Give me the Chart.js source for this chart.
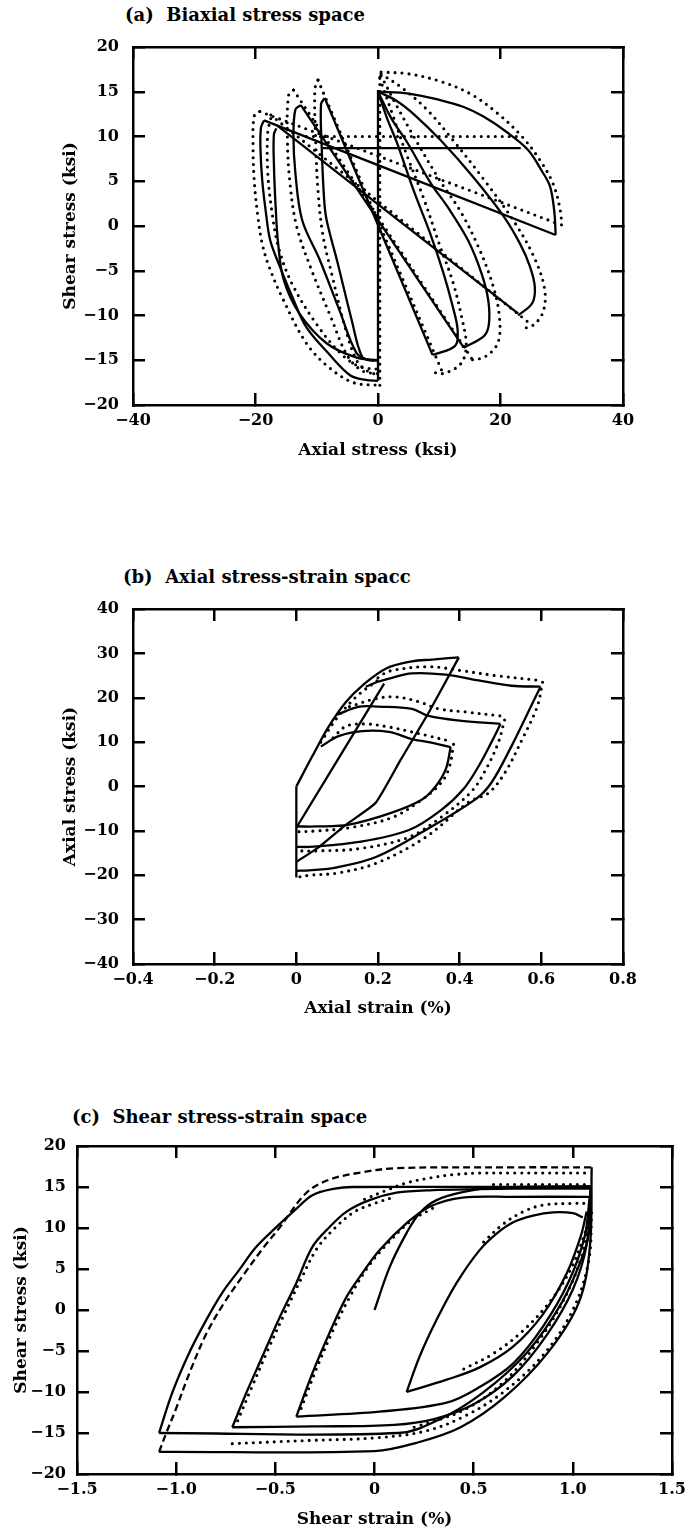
<!DOCTYPE html>
<html><head><meta charset="utf-8">
<script src="https://cdn.jsdelivr.net/npm/chart.js@4.4.1/dist/chart.umd.min.js"></script>
<style>
html,body{margin:0;padding:0;background:#fff;}
#page{position:relative;width:688px;height:1538px;overflow:hidden;background:#fff;}
canvas{position:absolute;left:0;}
.ttl{position:absolute;font:bold 18px "DejaVu Serif",serif;color:#000;white-space:pre;line-height:1;}
</style></head><body>
<div id="page">
<div class="ttl" style="left:125px;top:6px;">(a)  Biaxial stress space</div>
<div class="ttl" style="left:123px;top:568px;">(b)  Axial stress-strain spacc</div>
<div class="ttl" style="left:72px;top:1108px;">(c)  Shear stress-strain space</div>
<canvas id="ca" width="688" height="480" style="top:0px"></canvas>
<canvas id="cb" width="688" height="520" style="top:520px"></canvas>
<canvas id="cc" width="688" height="478" style="top:1060px"></canvas>
</div>
<script>
// ---------- tick values and labels ----------
const aXTicks = [-40,-20,0,20,40];
const aXLabels = ['\u221240','\u221220','0','20','40'];
const aYTicks = [-20,-15,-10,-5,0,5,10,15,20];
const aYLabels = ['\u221220','\u221215','\u221210','\u22125','0','5','10','15','20'];
const bXTicks = [-0.4,-0.2,0,0.2,0.4,0.6,0.8];
const bXLabels = ['\u22120.4','\u22120.2','0','0.2','0.4','0.6','0.8'];
const bYTicks = [-40,-30,-20,-10,0,10,20,30,40];
const bYLabels = ['\u221240','\u221230','\u221220','\u221210','0','10','20','30','40'];
const cXTicks = [-1.5,-1,-0.5,0,0.5,1,1.5];
const cXLabels = ['\u22121.5','\u22121.0','\u22120.5','0','0.5','1.0','1.5'];
const cYTicks = [-20,-15,-10,-5,0,5,10,15,20];
const cYLabels = ['\u221220','\u221215','\u221210','\u22125','0','5','10','15','20'];

// ---------- (a) biaxial stress space: solid (experiment) ----------
const aVert   = [[0,-17.3],[0,15.2]];
const aHoriz  = [[-9,8.7],[23.3,8.7]];
const aLine1  = [[-18.6,11.8],[29,-1]];
const aLine2  = [[-16.6,11.3],[22.9,-9.8]];
const aLine3  = [[-12.6,13.5],[14,-13.6]];
const aLine4  = [[-8.7,14.3],[8.9,-14.4]];
const aRight1 = [[0,15],[5,14.8],[10,14.1],[14,13.3],[17.3,12.2],[21,10.5],[24.5,8.5],[26.7,6.2],[28.1,4.4],[28.8,1.5],[29,-1]];
const aRight2 = [[0,15],[3,14],[6,12.4],[10.2,9.6],[15.5,5.5],[20.6,1],[23.2,-2],[24.8,-4.5],[25.6,-6.8],[25.2,-8.6],[22.9,-10]];
const aRight3 = [[0,15],[2.2,12],[4.8,9.3],[8.6,4.8],[11.4,2.1],[14.7,-1.6],[16.9,-5.3],[18,-8.3],[18.1,-11],[17.3,-12.3],[14,-13.6]];
const aRight4 = [[0,15],[1.5,12],[3.1,9.3],[5.8,4],[8.5,-0.8],[10.7,-5.3],[12.2,-9],[13,-11.6],[12.6,-13.4],[8.9,-14.4]];
const aLeft1  = [[-18.6,11.8],[-19.1,11],[-19.2,8.8],[-18.9,5.1],[-18.3,1.5],[-17.6,-1.6],[-16.1,-4.4],[-14,-7.9],[-11.7,-11.3],[-8,-14.3],[-4.5,-16.7],[-2,-17.2],[0,-17.3]];
const aLeft2  = [[-16.6,10.9],[-17,10.2],[-17,7],[-16.7,2],[-16.3,-2],[-15.4,-6],[-12.9,-9.7],[-8.4,-13.1],[-3.5,-14.7],[0,-15]];
const aLeft3  = [[-12.6,13.5],[-13.5,13],[-13.8,10],[-13.5,6],[-12.4,0.7],[-9.5,-3.8],[-6.3,-9.4],[-3.5,-14.2],[-1.5,-15],[0,-15]];
const aLeft4  = [[-8.7,14.3],[-9.3,13.6],[-9.2,9],[-8.8,3],[-8.4,0.7],[-6.6,-4.1],[-4.3,-10.5],[-2.6,-14.6],[-1,-15],[0,-15]];
// (a) dotted (model)
const aDVert   = [[0.3,-17.8],[0.3,17.2]];
const aDHoriz  = [[-11.7,10],[23.5,10]];
const aDLine1  = [[-19.3,12.8],[29.6,0.2]];
const aDLine2  = [[-17.5,12.4],[25,-11]];
const aDLine3  = [[-13.8,15.2],[15.5,-15]];
const aDLine4  = [[-9.8,16.3],[10.5,-16.3]];
const aDRight1 = [[0.5,17.2],[5,17],[10,16.2],[15,14.8],[19.5,12.6],[23.5,10],[26.5,7.3],[28.6,4.7],[29.8,1.6],[30,-0.5]];
const aDRight2 = [[0.5,17],[4,15.4],[8,13],[12,9.8],[17.5,5],[22.3,0.4],[25.5,-3.5],[27.2,-7],[27,-9.5],[25.5,-11],[23.5,-11.5]];
const aDRight3 = [[0.5,16.8],[3,13.5],[6,9.8],[10,5.2],[13.5,1.6],[16.5,-2.5],[18.7,-6.5],[19.8,-10],[19.6,-13],[17.5,-14.6],[15,-15]];
const aDRight4 = [[0.3,16.5],[2.2,12.8],[4.5,8.3],[7.5,3],[10,-2],[12.2,-6.2],[13.7,-10.3],[14.4,-13.4],[13.5,-15.4],[10.5,-16.5],[8.5,-16.2]];
const aDLeft1  = [[-19.3,12.8],[-20.2,12.3],[-20.4,9],[-20.2,5],[-19.6,1],[-18.9,-2],[-17.8,-4.5],[-15.7,-7.9],[-11.7,-13.1],[-8,-15.8],[-4,-17.5],[0,-17.8]];
const aDLeft2  = [[-17.5,12],[-18,10.5],[-18,6],[-17.3,1.5],[-16.2,-2.5],[-14,-6.5],[-10,-11],[-6,-14.3],[-3,-15.7],[0,-16]];
const aDLeft3  = [[-13.8,15.2],[-14.6,14.6],[-14.8,10],[-14.4,5],[-13.3,0],[-10.8,-5],[-7.8,-10],[-5,-14.5],[-2.5,-16.2],[0,-16.5]];
const aDLeft4  = [[-9.8,16.3],[-10.3,15.3],[-10.2,10],[-9.8,4],[-9,-1],[-7.5,-5.5],[-5.5,-11],[-3.5,-15],[-1.5,-16.3],[0,-16.6]];

// ---------- (b) axial stress-strain ----------
const bVert     = [[0,0],[0,-20.5]];
const bEnvelope = [[0,0],[0.039,6.8],[0.08,13.6],[0.122,19.1],[0.161,22.7],[0.22,26.6],[0.283,28.2],[0.332,28.6],[0.398,29.1]];
const bLine1    = [[0,-9.3],[0.215,23.2]];
const bLine2    = [[0,-17],[0.056,-13.6],[0.122,-8.6],[0.195,-3.6],[0.256,6.1],[0.325,16.8],[0.398,29.1]];
const bLoopATop = [[0.17,22.5],[0.2,23.6],[0.227,24.3],[0.283,25.5],[0.366,25.2],[0.446,23.9],[0.527,22.7],[0.598,22.5]];
const bLoopADn  = [[0.598,22.5],[0.568,16.8],[0.527,9.1],[0.478,0.9],[0.44,-2.8],[0.317,-9.8],[0.195,-15.9],[0.1,-18.2],[0.032,-18.9],[0,-19]];
const bLoopBTop = [[0.1,16.2],[0.154,18],[0.202,18],[0.283,17.5],[0.324,15.9],[0.405,14.8],[0.5,14.1]];
const bLoopBDn  = [[0.5,14.1],[0.478,10],[0.446,4.5],[0.41,-0.5],[0.356,-5.2],[0.276,-9.8],[0.154,-12.5],[0.032,-13.6],[0,-13.6]];
const bLoopCTop = [[0.06,9],[0.105,11.4],[0.161,12.5],[0.227,12.3],[0.283,10.7],[0.324,10],[0.378,8.9]];
const bLoopCDn  = [[0.378,8.9],[0.366,3.9],[0.341,0],[0.307,-3],[0.234,-5.9],[0.129,-8.6],[0.05,-9],[0,-9]];
const bDotATop  = [[0.2,24.5],[0.227,26],[0.324,27],[0.405,26.1],[0.488,25],[0.598,23.9]];
const bDotADn   = [[0.603,23.5],[0.59,18],[0.555,11],[0.51,3],[0.47,-1.5],[0.422,-3.5],[0.317,-11.4],[0.195,-17.3],[0.1,-19.5],[0.032,-20],[0,-20.5]];
const bDotBTop  = [[0.13,18],[0.195,19.8],[0.244,20.2],[0.3,19.1],[0.349,17.5],[0.415,16.8],[0.5,15.9]];
const bDotBDn   = [[0.51,15],[0.495,10],[0.465,4],[0.43,-1],[0.356,-6.8],[0.276,-11.4],[0.154,-14],[0.05,-14.5],[0,-14.5]];
const bDotCTop  = [[0.09,11],[0.122,13.6],[0.171,14.1],[0.227,13.4],[0.283,12.3],[0.324,11.4],[0.378,10.2]];
const bDotCDn   = [[0.385,9.5],[0.375,4.5],[0.356,1],[0.307,-3],[0.234,-7],[0.129,-9.3],[0.05,-10],[0,-10.2]];
const bDotEnv   = [[0.06,10],[0.1,15.5],[0.15,20.5],[0.2,24]];

// ---------- (c) shear stress-strain ----------
const cInit     = [[0,0],[0.076,5.2],[0.162,9.4],[0.227,11.8],[0.313,13.4],[0.45,14.4],[0.6,14.9],[1.09,15.1]];
const cLoop1Up  = [[-1.086,-15],[-1.02,-10.1],[-0.934,-5.2],[-0.848,-1.2],[-0.768,2.1],[-0.682,4.9],[-0.596,7.7],[-0.495,10.1],[-0.4,12.2],[-0.313,14],[-0.2,14.8],[-0.111,15],[0.697,15],[1.09,15]];
const cLoop1Dn  = [[-1.086,-15],[0.12,-15],[0.323,-13.4],[0.545,-10.1],[0.768,-5.2],[0.944,0.9],[1.056,7],[1.086,10.1],[1.09,15]];
const cLoop2Dn  = [[-1.086,-17.3],[0,-17.2],[0.212,-16.2],[0.434,-14.3],[0.657,-10.6],[0.874,-5.2],[1.03,0.9],[1.086,7.7],[1.095,17.4]];
const cLoop2Up  = [[-1.086,-17.3],[-1.05,-15],[-1.0,-12],[-0.93,-7.5],[-0.85,-3],[-0.76,0.8],[-0.66,4.3],[-0.56,7.6],[-0.48,10],[-0.343,14.3],[-0.227,15.9],[-0.061,16.8],[0.111,17.3],[0.697,17.4],[1.095,17.4]];
const cLoop3Up  = [[-0.717,-14.3],[-0.646,-10.1],[-0.566,-5.7],[-0.48,-1],[-0.394,3.3],[-0.313,7.7],[-0.227,10.1],[-0.141,12],[-0.025,13.4],[0.111,14.3],[0.278,14.6],[0.697,14.8],[1.09,14.8]];
const cLoop3Dn  = [[-0.717,-14.3],[-0.3,-14.2],[0.1,-14],[0.3,-13.3],[0.5,-11.5],[0.7,-8],[0.87,-3],[1.0,2.5],[1.07,8],[1.09,14.8]];
const cLoop4Up  = [[-0.394,-13],[-0.313,-7.7],[-0.227,-2.8],[-0.141,1.6],[-0.061,4.5],[0.025,7.3],[0.162,10.6],[0.278,12.6],[0.444,13.7],[0.697,13.8],[1.085,13.8]];
const cLoop4Dn  = [[-0.394,-13],[0.025,-12.4],[0.364,-11.3],[0.53,-9.4],[0.7,-6.5],[0.85,-2],[0.98,3.5],[1.06,9],[1.085,13.8]];
const cLoop5Up  = [[0.162,-10],[0.227,-5.7],[0.313,-1.2],[0.414,3.3],[0.53,7.3],[0.62,9.4],[0.7,10.7],[0.8,11.5],[0.9,11.9],[1.0,11.8],[1.05,11.3]];
const cLoop5Dn  = [[0.162,-10],[0.364,-8.5],[0.53,-7],[0.697,-4.5],[0.85,-0.5],[0.97,4.5],[1.04,9],[1.07,12]];
const cDotTop   = [[-0.05,13.5],[0.05,14.5],[0.162,15.5],[0.278,16.1],[0.394,16.5],[0.53,16.7],[0.697,16.7],[1.09,16.7]];
const cDotMid   = [[-0.69,-13.5],[-0.62,-9.5],[-0.54,-5],[-0.455,-0.5],[-0.37,3.8],[-0.29,7.5],[-0.2,10],[-0.1,12],[0,13],[0.1,13.8]];
const cDotThird = [[-0.37,-12],[-0.29,-7],[-0.2,-2],[-0.12,1.8],[-0.04,5],[0.05,7.7],[0.18,10.8],[0.3,12.5]];
const cDotBot   = [[-0.717,-16.3],[-0.328,-15.9],[0,-15.6],[0.25,-14.8],[0.45,-13],[0.65,-10],[0.85,-5.5],[1.0,0],[1.08,6],[1.095,12]];
const cDotTop15 = [[0.6,15.3],[1.09,15.3]];
const cDotInUp  = [[0.55,8.3],[0.65,10.5],[0.75,12],[0.85,12.8],[1.0,13],[1.08,13]];
const cDotInDn  = [[0.45,-7.2],[0.6,-5.3],[0.75,-2.5],[0.9,1.5],[1.0,5.5],[1.07,10]];
const cDotMidDn = [[0.2,-14.3],[0.45,-12.2],[0.65,-8.8],[0.82,-4],[0.96,1.5],[1.05,7],[1.08,11]];

// ---------- helpers ----------
const FONT = '"DejaVu Serif", "Liberation Serif", serif';
const P = arr => arr.map(p => ({x: p[0], y: p[1]}));
function solid(arr, t){ return {data: P(arr), showLine: true, pointRadius: 0, borderColor: '#000', borderWidth: 2.3, tension: (t === undefined ? 0.35 : t), fill: false}; }
function dotted(arr){ return {data: P(arr), showLine: true, pointRadius: 0, borderColor: '#000', borderWidth: 3.1, borderDash: [0, 7], borderCapStyle: 'round', tension: 0.35, fill: false}; }
function dashed(arr){ return {data: P(arr), showLine: true, pointRadius: 0, borderColor: '#000', borderWidth: 2.3, borderDash: [7, 4], tension: 0.35, fill: false}; }

function axisBase(min, max, ticks){
  return {
    type: 'linear', min: min, max: max,
    afterBuildTicks: s => { s.ticks = ticks.map(v => ({value: v})); },
    grid: {drawOnChartArea: false, drawTicks: true, tickLength: -12, color: '#000', lineWidth: 2.5},
    border: {display: true, color: '#000', width: 2.5}
  };
}
function makeChart(id, cfg){
  const ctx = document.getElementById(id);
  const H = ctx.height;
  const xs = axisBase(cfg.xmin, cfg.xmax, cfg.xticks);
  Object.assign(xs, {
    position: 'bottom',
    ticks: {color: '#000', font: {family: FONT, size: 16, weight: 'bold'}, padding: 18, maxRotation: 0, autoSkip: false,
            callback: (v, i) => cfg.xlabels[i]},
    title: {display: true, text: cfg.xtitle, color: '#000', font: {family: FONT, size: 17, weight: 'bold'}, padding: {top: 0, bottom: cfg.xtp}},
    afterFit: s => { s.height = cfg.xh; s.paddingLeft = 0; s.paddingRight = 0; }
  });
  const x2 = axisBase(cfg.xmin, cfg.xmax, cfg.xticks);
  Object.assign(x2, {position: 'top', ticks: {display: false}, afterFit: s => { s.height = 0; s.paddingLeft = 0; s.paddingRight = 0; }});
  const ys = axisBase(cfg.ymin, cfg.ymax, cfg.yticks);
  Object.assign(ys, {
    position: 'left',
    ticks: {color: '#000', font: {family: FONT, size: 16, weight: 'bold'}, padding: cfg.ylp, autoSkip: false,
            callback: (v, i) => cfg.ylabels[i]},
    title: {display: true, text: cfg.ytitle, color: '#000', font: {family: FONT, size: 17, weight: 'bold'}, padding: {top: cfg.ytp, bottom: 0}},
    afterFit: s => { s.width = cfg.left; s.paddingTop = 0; s.paddingBottom = 0; }
  });
  const y2 = axisBase(cfg.ymin, cfg.ymax, cfg.yticks);
  Object.assign(y2, {position: 'right', ticks: {display: false}, afterFit: s => { s.width = 0; s.paddingTop = 0; s.paddingBottom = 0; }});
  return new Chart(ctx, {
    type: 'scatter',
    data: {datasets: cfg.datasets},
    options: {
      responsive: false, animation: false, events: [],
      layout: {padding: {left: 0, right: 688 - cfg.right, top: cfg.top, bottom: H - cfg.bottom - cfg.xh}},
      plugins: {legend: {display: false}, tooltip: {enabled: false}, title: {display: false}},
      scales: {x: xs, x2: x2, y: ys, y2: y2}
    }
  });
}

makeChart('ca', {
  xmin: -40, xmax: 40, xticks: aXTicks, xlabels: aXLabels,
  ymin: -20, ymax: 20, yticks: aYTicks, ylabels: aYLabels,
  xtitle: 'Axial stress (ksi)', ytitle: 'Shear stress (ksi)',
  left: 133, right: 623, top: 47, bottom: 405, xh: 60, xtp: 4, ytp: 60, ylp: 26,
  datasets: [
    solid(aVert), solid(aHoriz), solid(aLine1), solid(aLine2), solid(aLine3), solid(aLine4),
    solid(aRight1), solid(aRight2), solid(aRight3), solid(aRight4),
    solid(aLeft1), solid(aLeft2), solid(aLeft3), solid(aLeft4),
    dotted(aDVert), dotted(aDHoriz), dotted(aDLine1), dotted(aDLine2), dotted(aDLine3), dotted(aDLine4),
    dotted(aDRight1), dotted(aDRight2), dotted(aDRight3), dotted(aDRight4),
    dotted(aDLeft1), dotted(aDLeft2), dotted(aDLeft3), dotted(aDLeft4)
  ]
});
makeChart('cb', {
  xmin: -0.4, xmax: 0.8, xticks: bXTicks, xlabels: bXLabels,
  ymin: -40, ymax: 40, yticks: bYTicks, ylabels: bYLabels,
  xtitle: 'Axial strain (%)', ytitle: 'Axial stress (ksi)',
  left: 133, right: 623, top: 89, bottom: 444, xh: 60, xtp: 5, ytp: 60, ylp: 26,
  datasets: [
    solid(bVert), solid(bEnvelope), solid(bLine1), solid(bLine2, 0.15),
    solid(bLoopATop), solid(bLoopADn), solid(bLoopBTop), solid(bLoopBDn), solid(bLoopCTop), solid(bLoopCDn),
    dotted(bDotATop), dotted(bDotADn), dotted(bDotBTop), dotted(bDotBDn), dotted(bDotCTop), dotted(bDotCDn), dotted(bDotEnv)
  ]
});
makeChart('cc', {
  xmin: -1.5, xmax: 1.5, xticks: cXTicks, xlabels: cXLabels,
  ymin: -20, ymax: 20, yticks: cYTicks, ylabels: cYLabels,
  xtitle: 'Shear strain (%)', ytitle: 'Shear stress (ksi)',
  left: 77, right: 672, top: 86, bottom: 414, xh: 64, xtp: 8, ytp: 11, ylp: 23,
  datasets: [
    solid(cInit), solid(cLoop1Up), solid(cLoop1Dn), solid(cLoop2Dn), dashed(cLoop2Up),
    solid(cLoop3Up), solid(cLoop3Dn), solid(cLoop4Up), solid(cLoop4Dn), solid(cLoop5Up), solid(cLoop5Dn),
    dotted(cDotTop), dotted(cDotMid), dotted(cDotThird), dotted(cDotBot), dotted(cDotTop15),
    dotted(cDotInUp), dotted(cDotInDn), dotted(cDotMidDn)
  ]
});
</script>
</body></html>
